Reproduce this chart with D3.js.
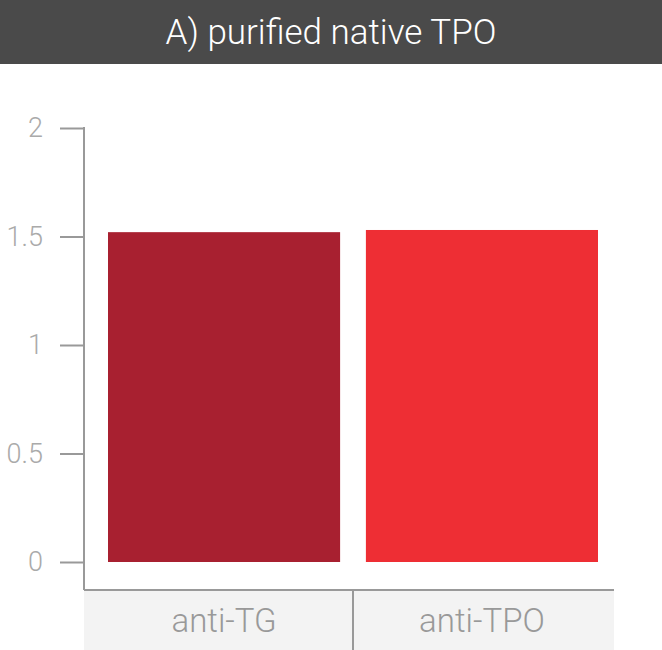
<!DOCTYPE html>
<html>
<head>
<meta charset="utf-8">
<script src="https://cdn.jsdelivr.net/npm/d3@7"></script>
<style>
  body { margin: 0; background: #fff; }
  svg { display: block; font-family: "Roboto", "Liberation Sans", sans-serif; }
</style>
</head>
<body>
<svg id="chart"></svg>
<script>
// Chart data
const title = 'A) purified native TPO';
const categories = ['anti-TG', 'anti-TPO'];
const values = [1.52, 1.53];
const colors = ['#a82030', '#ee2e34'];
const yTicks = [0, 0.5, 1, 1.5, 2];

const W = 662, H = 650;
const svg = d3.select('#chart').attr('width', W).attr('height', H);

// title bar
svg.append('rect')
    .attr('x', 0).attr('y', 0).attr('width', W).attr('height', 64)
    .attr('fill', '#4a4a4a');
svg.append('text')
    .attr('x', W / 2).attr('y', 44)
    .attr('text-anchor', 'middle')
    .attr('fill', '#fff')
    .style('font-size', '35px')
    .style('font-weight', 300)
    .text(title);

const axisX0 = 84, axisX1 = 614, baseY = 590;

const x = d3.scaleBand().domain(categories).range([108, 598]).paddingInner(0.1).paddingOuter(0);
const y = d3.scaleLinear().domain([0, 2]).range([562, 128]);

// category label boxes
const bandEdges = [axisX0, (x(categories[1]) + x(categories[0]) + x.bandwidth()) / 2, axisX1];
svg.append('g').selectAll('rect')
    .data(categories)
    .join('rect')
    .attr('x', (d, i) => bandEdges[i])
    .attr('y', baseY)
    .attr('width', (d, i) => bandEdges[i + 1] - bandEdges[i])
    .attr('height', H - baseY)
    .attr('fill', '#f3f3f3');

svg.append('g').selectAll('text')
    .data(categories)
    .join('text')
    .attr('x', d => x(d) + x.bandwidth() / 2)
    .attr('y', 632)
    .attr('text-anchor', 'middle')
    .attr('fill', '#999')
    .style('font-size', '33px')
    .style('font-weight', 300)
    .text(d => d);

// bars
svg.append('g').selectAll('rect')
    .data(values)
    .join('rect')
    .attr('x', (d, i) => x(categories[i]))
    .attr('y', d => y(d))
    .attr('width', x.bandwidth())
    .attr('height', d => y(0) - y(d))
    .attr('fill', (d, i) => colors[i]);

// y axis
const yAxis = svg.append('g')
    .attr('transform', `translate(${axisX0},0)`)
    .call(d3.axisLeft(y).tickValues(yTicks).tickSize(24).tickPadding(17).tickFormat(d3.format('')))
    .call(a => a.select('.domain').remove());
yAxis.selectAll('.tick line').attr('stroke', '#999').attr('stroke-width', 2);
yAxis.selectAll('.tick text')
    .attr('fill', '#aaa')
    .style('font-size', '27px')
    .style('font-weight', 300)
    .style('font-family', '"Roboto", sans-serif');

// axis frame lines
svg.append('line')
    .attr('x1', axisX0).attr('x2', axisX0)
    .attr('y1', y(2) - 1).attr('y2', baseY)
    .attr('stroke', '#999').attr('stroke-width', 2);
svg.append('line')
    .attr('x1', axisX0).attr('x2', axisX1)
    .attr('y1', baseY).attr('y2', baseY)
    .attr('stroke', '#999').attr('stroke-width', 2);
svg.append('line')
    .attr('x1', bandEdges[1]).attr('x2', bandEdges[1])
    .attr('y1', baseY).attr('y2', H)
    .attr('stroke', '#999').attr('stroke-width', 2);
</script>
</body>
</html>
